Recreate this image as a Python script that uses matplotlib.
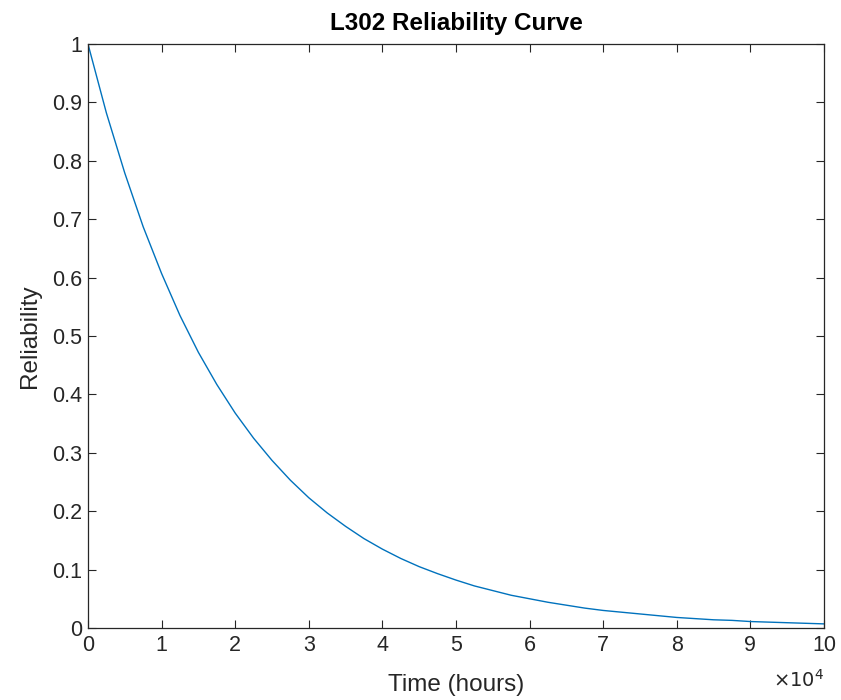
import matplotlib
matplotlib.use("Agg")
import matplotlib.pyplot as plt

plt.rcParams['font.family'] = ['Liberation Sans', 'DejaVu Sans']

# values (time in hours)
time_hours = [0, 2500, 5000, 7500, 10000, 12500, 15000, 17500, 20000, 22500,
              25000, 27500, 30000, 32500, 35000, 37500, 40000, 42500, 45000, 47500,
              50000, 52500, 55000, 57500, 60000, 62500, 65000, 67500, 70000, 72500,
              75000, 77500, 80000, 82500, 85000, 87500, 90000, 92500, 95000, 97500,
              100000]
reliability = [1.000, 0.882, 0.779, 0.687, 0.607, 0.535, 0.472, 0.417, 0.368, 0.325,
               0.287, 0.253, 0.223, 0.197, 0.174, 0.153, 0.135, 0.119, 0.105, 0.093,
               0.082, 0.072, 0.064, 0.056, 0.050, 0.044, 0.039, 0.034, 0.030, 0.027,
               0.024, 0.021, 0.018, 0.016, 0.014, 0.013, 0.011, 0.010, 0.009, 0.008,
               0.007]
x_ticks = [0, 10000, 20000, 30000, 40000, 50000, 60000, 70000, 80000, 90000, 100000]
x_labels = ['0', '1', '2', '3', '4', '5', '6', '7', '8', '9', '10']
y_ticks = [0, 0.1, 0.2, 0.3, 0.4, 0.5, 0.6, 0.7, 0.8, 0.9, 1]
y_labels = ['0', '0.1', '0.2', '0.3', '0.4', '0.5', '0.6', '0.7', '0.8', '0.9', '1']

dark = '#262626'
fig = plt.figure(figsize=(8.41, 7.0), dpi=100)
ax = fig.add_axes([0.1046, 0.1029, 0.8752, 0.8343])
ax.plot(time_hours, reliability, color='#0072BD', linewidth=1.0)

ax.set_xlim(0, 100000)
ax.set_ylim(0, 1)
ax.set_xticks(x_ticks)
ax.set_xticklabels(x_labels)
ax.set_yticks(y_ticks)
ax.set_yticklabels(y_labels)

ax.tick_params(direction='in', top=True, right=True, length=6, width=0.8,
               colors=dark, labelsize=15.5, pad=4)
ax.tick_params(axis='x', pad=5)
for s in ax.spines.values():
    s.set_color(dark)
    s.set_linewidth(0.9)

# MATLAB-style exponent marker under the right end of the x axis
ax.text(1.0, -0.108, r'$\times10^4$', transform=ax.transAxes, ha='right', va='bottom',
        fontsize=14, color=dark)

ax.set_xlabel('Time (hours)', fontsize=17.5, color=dark, labelpad=13)
ax.set_ylabel('Reliability', fontsize=17.5, color=dark, labelpad=8)
ax.set_title('L302 Reliability Curve', fontsize=17.5, fontweight='bold', color='black', pad=10)

fig.savefig('out.png', dpi=100)
